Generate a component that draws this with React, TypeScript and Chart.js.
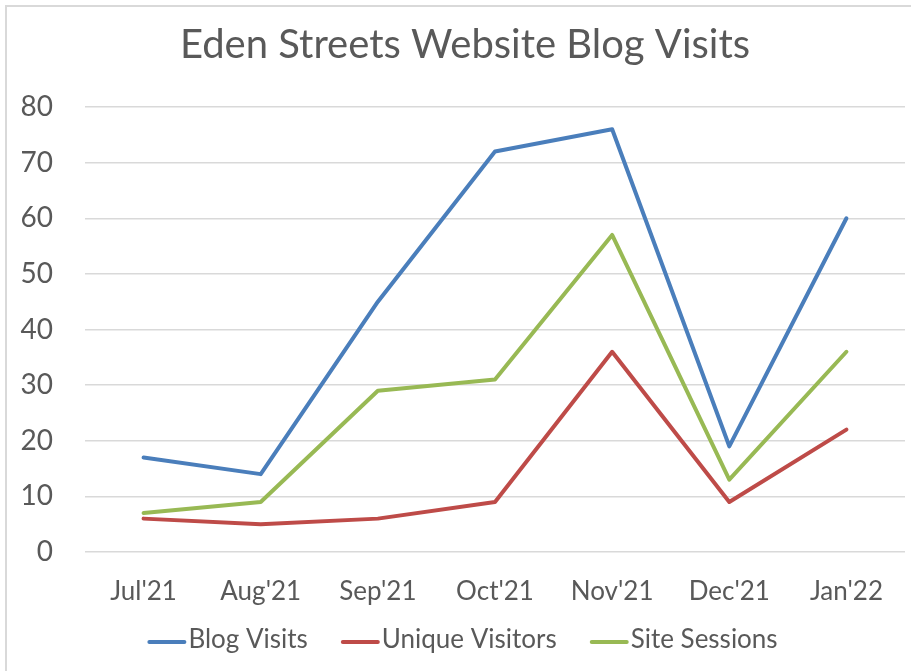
import React, { useEffect, useRef } from "react";
import { Chart, registerables } from "chart.js";

Chart.register(...registerables);

const months = ["Jul'21", "Aug'21", "Sep'21", "Oct'21", "Nov'21", "Dec'21", "Jan'22"];
const blogVisits = [17, 14, 45, 72, 76, 19, 60];
const uniqueVisitors = [6, 5, 6, 9, 36, 9, 22];
const siteSessions = [7, 9, 29, 31, 57, 13, 36];
const yTicks = [0, 10, 20, 30, 40, 50, 60, 70, 80];
const titleText = "Eden Streets Website Blog Visits";

const FONT = 'Lato, "Open Sans", sans-serif';
const TEXT = "#595959";

const titleLegendPlugin = {
  id: "titleLegend",
  afterDraw(chart: any) {
    const ctx = chart.ctx;
    ctx.save();
    // title
    ctx.font = `40px ${FONT}`;
    ctx.fillStyle = TEXT;
    ctx.textAlign = "center";
    ctx.textBaseline = "alphabetic";
    ctx.fillText(titleText, 465, 58);
    // legend
    ctx.font = `26px ${FONT}`;
    const lineLen = 37;
    const gap = 3;
    const itemGap = 34;
    const items = chart.data.datasets.map((ds: any) => ({
      label: ds.label,
      color: ds.borderColor,
      w: ctx.measureText(ds.label).width,
    }));
    const total = items.reduce((s: number, it: any) => s + lineLen + gap + it.w, 0) + itemGap * (items.length - 1);
    let x = 463 - total / 2;
    const y = 642;
    for (const it of items) {
      ctx.strokeStyle = it.color;
      ctx.lineWidth = 4;
      ctx.lineCap = "round";
      ctx.beginPath();
      ctx.moveTo(x + 1, y);
      ctx.lineTo(x + lineLen - 1, y);
      ctx.stroke();
      ctx.fillStyle = TEXT;
      ctx.textBaseline = "middle";
      ctx.textAlign = "left";
      ctx.fillText(it.label, x + lineLen + gap, y - 2);
      x += lineLen + gap + it.w + itemGap;
    }
    ctx.restore();
  },
};

export default function App() {
  const ref = useRef<HTMLCanvasElement>(null);
  useEffect(() => {
    if (!ref.current) return;
    const mk = (label: string, data: number[], color: string) => ({
      label,
      data,
      borderColor: color,
      backgroundColor: color,
      borderWidth: 4,
      pointRadius: 0,
      tension: 0,
      borderJoinStyle: "round" as const,
      borderCapStyle: "round" as const,
    });
    const chart = new Chart(ref.current, {
      type: "line",
      data: {
        labels: months,
        datasets: [
          mk("Blog Visits", blogVisits, "#4A7EBB"),
          mk("Unique Visitors", uniqueVisitors, "#BE4B48"),
          mk("Site Sessions", siteSessions, "#98B954"),
        ],
      },
      options: {
        responsive: false,
        animation: false,
        devicePixelRatio: 1,
        layout: { padding: { left: 0, right: 6, top: 107, bottom: 49 } },
        plugins: {
          legend: { display: false },
          tooltip: { enabled: false },
          title: { display: false },
        },
        scales: {
          x: {
            offset: true,
            grid: { display: false },
            border: { display: false },
            ticks: {
              color: TEXT,
              font: { family: FONT, size: 26 },
              padding: 16,
              maxRotation: 0,
            },
            afterFit: (s: any) => {
              s.height = 70;
            },
          },
          y: {
            min: 0,
            max: 80,
            afterBuildTicks: (s: any) => {
              s.ticks = yTicks.map((v) => ({ value: v }));
            },
            grid: { color: "#D9D9D9", lineWidth: 1.5, drawTicks: false },
            border: { display: false },
            ticks: {
              color: TEXT,
              font: { family: FONT, size: 28 },
              padding: 32,
            },
            afterFit: (s: any) => {
              s.width = 85;
            },
          },
        },
      },
      plugins: [titleLegendPlugin],
    });
    return () => chart.destroy();
  }, []);
  return (
    <div style={{ position: "fixed", left: 0, top: 0, width: 911, height: 671, overflow: "hidden", background: "#fff" }}>
      <div
        style={{
          position: "absolute",
          left: 5,
          top: 5,
          width: 930,
          height: 690,
          border: "2px solid #D9D9D9",
          boxSizing: "border-box",
        }}
      />
      <canvas ref={ref} width={911} height={671} style={{ position: "absolute", left: 0, top: 0 }} />
    </div>
  );
}
